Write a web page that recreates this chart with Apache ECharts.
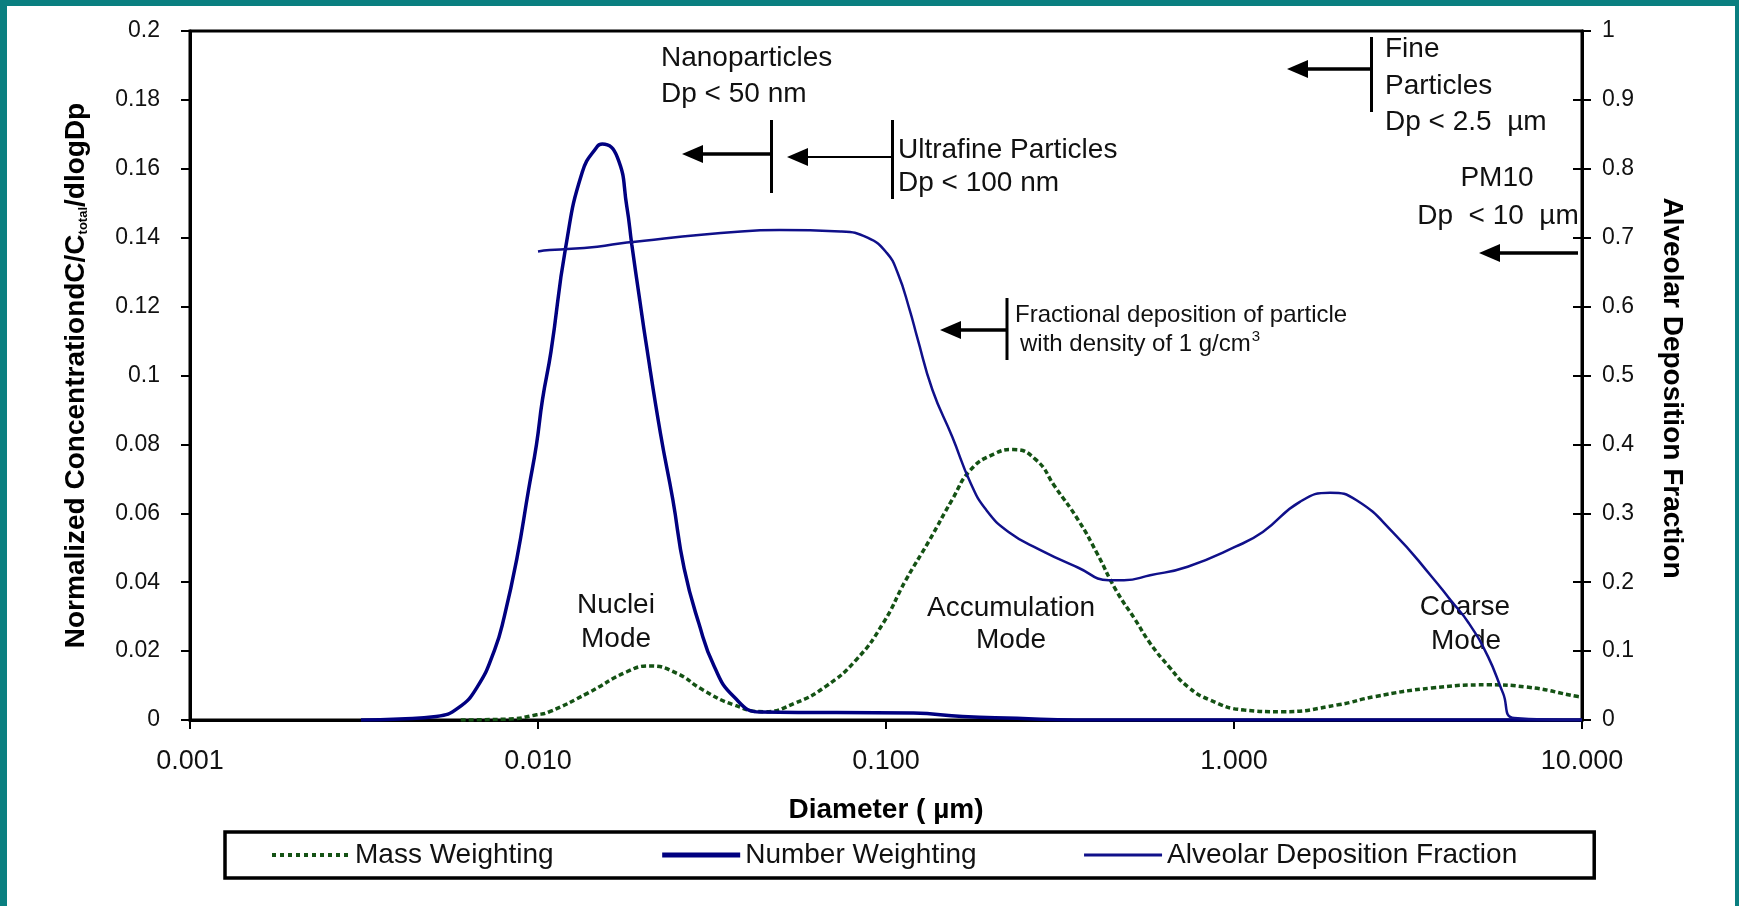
<!DOCTYPE html>
<html>
<head>
<meta charset="utf-8">
<title>Particle size modes and alveolar deposition</title>
<script src="https://cdn.jsdelivr.net/npm/echarts@6/dist/echarts.min.js"></script>
<style>
html, body { margin: 0; padding: 0; background: #fff; }
#chart { position: absolute; left: 0; top: 0; width: 1739px; height: 906px; }
#frame {
  position: absolute; left: 0; top: 0; width: 1739px; height: 906px;
  box-sizing: border-box; pointer-events: none;
  border-style: solid; border-color: #0a7f80; border-width: 6px 4px 0 7px;
}
</style>
</head>
<body>
<div id="chart"></div>
<div id="frame"></div>
<script>
// diameters in µm
const massD = [0.006, 0.0083, 0.0099, 0.0108, 0.0139, 0.018, 0.0209, 0.025, 0.0298, 0.0365, 0.0446, 0.0548, 0.067, 0.082, 0.098, 0.114, 0.133, 0.155, 0.175, 0.204, 0.232, 0.27, 0.306, 0.357, 0.404, 0.458, 0.521, 0.574, 0.65, 0.736, 0.853, 1.07, 1.37, 1.99, 2.54, 3.7, 5.37, 6.89, 9.75, 10]
const massVal = [0, 0.0003, 0.0015, 0.0024, 0.0078, 0.014, 0.0157, 0.0136, 0.0087, 0.0044, 0.0024, 0.0049, 0.0097, 0.0174, 0.028, 0.0406, 0.052, 0.064, 0.0726, 0.0772, 0.0785, 0.0755, 0.0677, 0.058, 0.0484, 0.0377, 0.029, 0.0223, 0.0155, 0.0097, 0.0058, 0.0029, 0.0024, 0.0044, 0.0068, 0.0093, 0.0102, 0.0096, 0.0068, 0.0067]

const numberD = [0.0031, 0.004, 0.0051, 0.0059, 0.0067, 0.0075, 0.008, 0.0087, 0.0094, 0.0099, 0.0103, 0.0109, 0.012, 0.0134, 0.0148, 0.0153, 0.0169, 0.018, 0.0186, 0.0196, 0.0204, 0.0225, 0.0244, 0.0263, 0.029, 0.0321, 0.0365, 0.0436, 0.12, 0.166, 0.238, 0.35, 10]
const numberVal = [0, 0.0003, 0.001, 0.0035, 0.0097, 0.0203, 0.03, 0.047, 0.067, 0.08, 0.093, 0.107, 0.137, 0.159, 0.1665, 0.1672, 0.1634, 0.149, 0.138, 0.122, 0.11, 0.083, 0.064, 0.044, 0.028, 0.0155, 0.0068, 0.0023, 0.002, 0.001, 0.0005, 0, 0]

// alveolar deposition fraction (right axis)
const adfD = [0.01, 0.0108, 0.0148, 0.018, 0.0383, 0.0494, 0.0741, 0.0885, 0.1005, 0.108, 0.117, 0.123, 0.136, 0.155, 0.175, 0.194, 0.225, 0.277, 0.357, 0.437, 0.483, 0.574, 0.736, 1.01, 1.21, 1.55, 1.89, 2.25, 2.88, 3.7, 4.19, 4.73, 5.37, 5.93, 6.38, 10]
const adfVal = [0.68, 0.682, 0.687, 0.693, 0.709, 0.711, 0.709, 0.7, 0.678, 0.649, 0.595, 0.555, 0.479, 0.411, 0.344, 0.305, 0.273, 0.247, 0.221, 0.203, 0.203, 0.21, 0.2225, 0.2515, 0.273, 0.317, 0.33, 0.319, 0.271, 0.208, 0.174, 0.1405, 0.092, 0.039, 0.003, 0]

const xTickLabels = ['0.001', '0.010', '0.100', '1.000', '10.000']
const leftTickLabels = ['0', '0.02', '0.04', '0.06', '0.08', '0.1', '0.12', '0.14', '0.16', '0.18', '0.2']
const rightTickLabels = ['0', '0.1', '0.2', '0.3', '0.4', '0.5', '0.6', '0.7', '0.8', '0.9', '1']

const zip = (xs, ys) => xs.map((x, i) => [x, ys[i]])

const font = '"Liberation Sans", Arial, sans-serif'
const ink = '#111'
const green = '#145214'
const navy = '#000080'

const txt = (text, x, y, size, align) => ({
  type: 'text', x, y, z: 1,
  style: { text, fill: ink, fontFamily: font, fontSize: size, textAlign: align || 'left', textVerticalAlign: 'middle' },
})
const bar = (x, y1, y2) => ({
  type: 'line', z: 1, shape: { x1: x, y1, x2: x, y2 }, style: { stroke: '#000', lineWidth: 3 },
})
const arrow = (tipX, tailX, y, w) => [
  { type: 'line', z: 1, shape: { x1: tipX + 18, y1: y, x2: tailX, y2: y }, style: { stroke: '#000', lineWidth: w } },
  { type: 'polygon', z: 1, shape: { points: [[tipX, y], [tipX + 21, y - 9], [tipX + 21, y + 9]] }, style: { fill: '#000' } },
]

const graphics = [
  txt('Nanoparticles', 661, 58, 28),
  txt('Dp < 50 nm', 661, 94, 28),
  bar(771.5, 120, 193),
  ...arrow(682, 771, 154, 3.5),

  txt('Ultrafine Particles', 898, 150, 28),
  txt('Dp < 100 nm', 898, 183, 28),
  bar(892.5, 120, 199),
  ...arrow(787, 892, 157, 2),

  txt('Fractional deposition of particle', 1015, 315, 24),
  {
    type: 'text', x: 1020, y: 344, z: 1,
    style: {
      text: '{a|with density of 1 g/cm}{s|3}',
      textVerticalAlign: 'middle',
      rich: {
        a: { fontFamily: font, fontSize: 24, fill: ink, color: ink },
        s: { fontFamily: font, fontSize: 15, fill: ink, color: ink, padding: [0, 0, 14, 1] },
      },
    },
  },
  bar(1007, 298, 360),
  ...arrow(940, 1007, 330, 3.5),

  txt('Fine', 1385, 49, 28),
  txt('Particles', 1385, 86, 28),
  txt('Dp < 2.5  µm', 1385, 122, 28),
  bar(1371.5, 37, 112),
  ...arrow(1287, 1372, 69, 3.5),

  txt('PM10', 1497, 178, 28, 'center'),
  txt('Dp  < 10  µm', 1498, 216, 28, 'center'),
  ...arrow(1479, 1578, 253, 3.5),

  txt('Nuclei', 616, 605, 28, 'center'),
  txt('Mode', 616, 639, 28, 'center'),
  txt('Accumulation', 1011, 608, 28, 'center'),
  txt('Mode', 1011, 640, 28, 'center'),
  txt('Coarse', 1465, 607, 28, 'center'),
  txt('Mode', 1466, 641, 28, 'center'),
]

const chart = echarts.init(document.getElementById('chart'))

chart.setOption({
  animation: false,
  backgroundColor: '#fff',
  grid: {
    left: 190, right: 157, top: 31, bottom: 186,
    show: true, borderColor: '#000', borderWidth: 3, backgroundColor: 'transparent',
  },
  legend: {
    left: 225, top: 832,
    padding: [9, 77, 9, 45],
    borderColor: '#000', borderWidth: 3.5,
    itemWidth: 78, itemHeight: 14, itemGap: 106,
    itemStyle: { opacity: 0, color: 'transparent', borderWidth: 0 },
    textStyle: { fontFamily: font, fontSize: 28, color: ink },
    data: [
      { name: 'Mass Weighting', lineStyle: { width: 4, type: [4, 4] } },
      { name: 'Number Weighting', lineStyle: { width: 5 } },
      { name: 'Alveolar Deposition Fraction', lineStyle: { width: 3 } },
    ],
  },
  xAxis: {
    type: 'log', logBase: 10, min: 0.001, max: 10,
    name: 'Diameter ( µm)', nameLocation: 'middle', nameGap: 76,
    nameTextStyle: { fontFamily: font, fontSize: 28, fontWeight: 'bold', color: '#000' },
    axisLine: { lineStyle: { color: '#000', width: 3 } },
    axisTick: { length: 9, lineStyle: { color: '#000', width: 2 } },
    axisLabel: {
      margin: 28, fontFamily: font, fontSize: 27, color: ink,
      showMinLabel: true, showMaxLabel: true,
      formatter: (v) => xTickLabels[Math.round(Math.log10(v)) + 3],
    },
    splitLine: { show: false },
    minorTick: { show: false },
  },
  yAxis: [
    {
      type: 'value', position: 'left', min: 0, max: 0.2, interval: 0.02,
      name: '{a|Normalized ConcentrationdC/C}{s|total}{a|/dlogDp}',
      nameLocation: 'middle', nameRotate: 90, nameGap: 100,
      nameTextStyle: {
        color: '#000',
        rich: {
          a: { fontFamily: font, fontSize: 28, fontWeight: 'bold', color: '#000' },
          s: { fontFamily: font, fontSize: 13, fontWeight: 'bold', color: '#000', padding: [14, 0, 0, 0] },
        },
      },
      axisLine: { show: true, lineStyle: { color: '#000', width: 3 } },
      axisTick: { show: true, length: 9, lineStyle: { color: '#000', width: 2 } },
      axisLabel: {
        margin: 30, fontFamily: font, fontSize: 23, color: ink,
        formatter: (v) => leftTickLabels[Math.round(v / 0.02)],
      },
      splitLine: { show: false },
    },
    {
      type: 'value', position: 'right', min: 0, max: 1, interval: 0.1,
      name: 'Alveolar Deposition Fraction',
      nameLocation: 'middle', nameRotate: -90, nameGap: 76,
      nameTextStyle: { fontFamily: font, fontSize: 28, fontWeight: 'bold', color: '#000', padding: [0, 0, 0, 25] },
      axisLine: { show: true, lineStyle: { color: '#000', width: 3 } },
      axisTick: { show: true, length: 9, lineStyle: { color: '#000', width: 2 } },
      axisLabel: {
        margin: 20, fontFamily: font, fontSize: 23, color: ink,
        formatter: (v) => rightTickLabels[Math.round(v * 10)],
      },
      splitLine: { show: false },
    },
    {
      // inner half of the crossing ticks on the right axis
      type: 'value', position: 'right', min: 0, max: 1, interval: 0.1,
      axisLine: { show: false },
      axisTick: { show: true, inside: true, length: 9, lineStyle: { color: '#000', width: 2 } },
      axisLabel: { show: false },
      splitLine: { show: false },
    },
  ],
  series: [
    {
      name: 'Mass Weighting', type: 'line', yAxisIndex: 0,
      data: zip(massD, massVal),
      symbol: 'none', smooth: 0.5,
      lineStyle: { color: green, width: 3.5, type: [5, 3] },
      itemStyle: { color: green },
    },
    {
      name: 'Number Weighting', type: 'line', yAxisIndex: 0,
      data: zip(numberD, numberVal),
      symbol: 'none', smooth: 0.5,
      lineStyle: { color: navy, width: 3.5 },
      itemStyle: { color: navy },
    },
    {
      name: 'Alveolar Deposition Fraction', type: 'line', yAxisIndex: 1,
      data: zip(adfD, adfVal),
      symbol: 'none', smooth: 0.5,
      lineStyle: { color: '#10108a', width: 2.5 },
      itemStyle: { color: '#10108a' },
    },
  ],
  graphic: graphics,
})
</script>
</body>
</html>
